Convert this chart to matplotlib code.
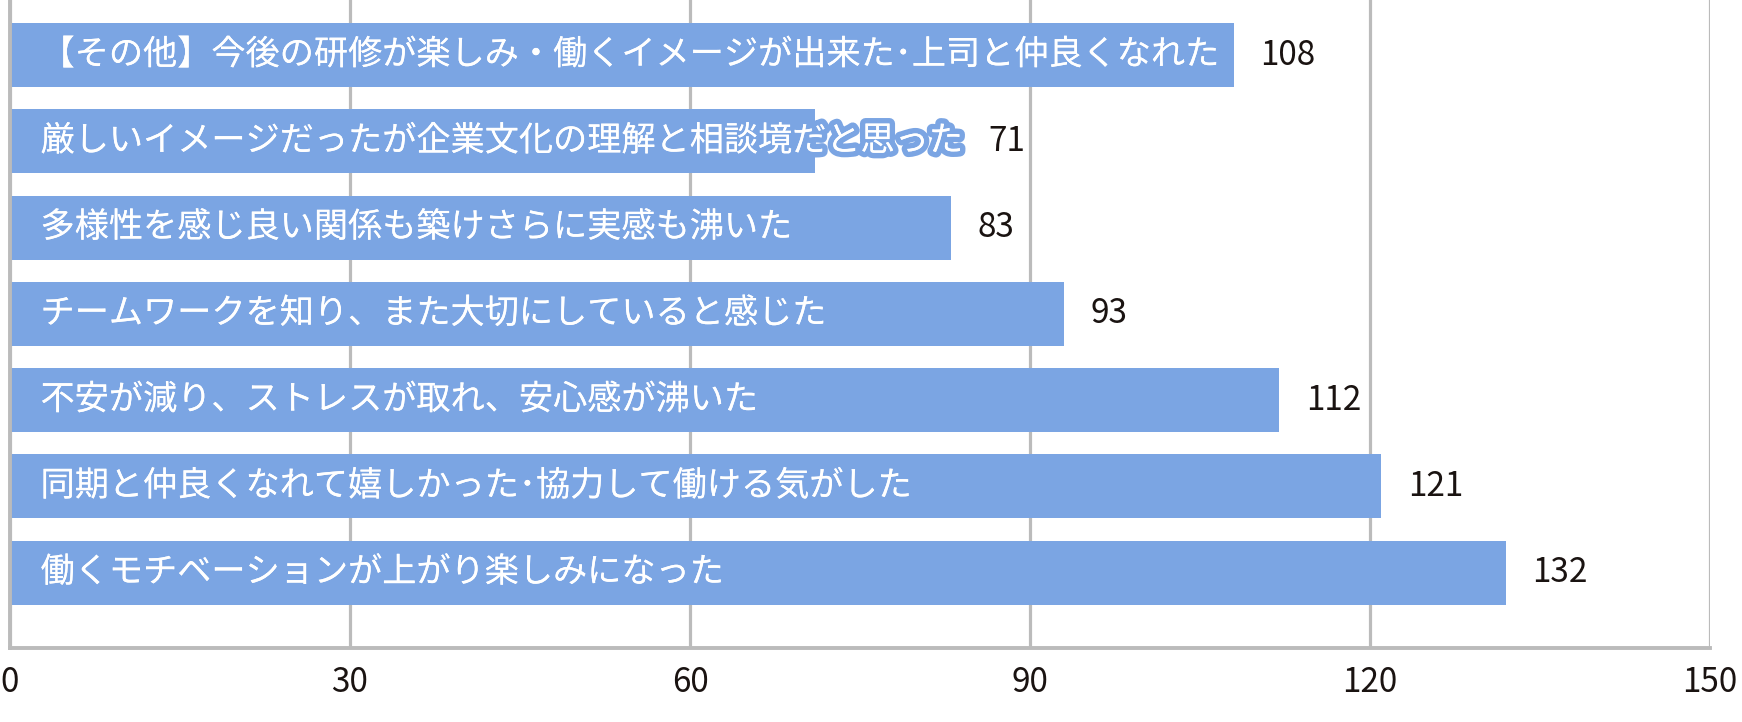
import matplotlib
matplotlib.use("Agg")
import matplotlib.pyplot as plt
import matplotlib.patheffects as pe

plt.rcParams['font.family'] = ['Noto Sans CJK JP', 'DejaVu Sans']

labels = [
    "【その他】今後の研修が楽しみ・働くイメージが出来た･上司と仲良くなれた",
    "厳しいイメージだったが企業文化の理解と相談境だと思った",
    "多様性を感じ良い関係も築けさらに実感も沸いた",
    "チームワークを知り、また大切にしていると感じた",
    "不安が減り、ストレスが取れ、安心感が沸いた",
    "同期と仲良くなれて嬉しかった･協力して働ける気がした",
    "働くモチベーションが上がり楽しみになった",
]
values = [108, 71, 83, 93, 112, 121, 132]
xticks = [0, 30, 60, 90, 120, 150]

bar_color = "#7BA5E3"
grid_color = "#BBBBBB"
text_dark = "#1A1311"
fs_label = 24.6
fs_num = 24

W, H = 1742, 722
fig = plt.figure(figsize=(W / 100, H / 100), dpi=100)
ax = fig.add_axes([10 / W, 1 - 648 / H, 1700 / W, 648 / H])

pos = list(range(len(labels)))
ax.barh(pos, values, height=0.742, color=bar_color, zorder=2)

ax.set_xlim(0, 150)
ax.set_ylim(6.875, -0.638)
ax.set_xticks(xticks)
ax.set_xticklabels([str(t) for t in xticks], fontsize=fs_num, color=text_dark)
ax.set_yticks([])
ax.tick_params(axis="x", length=0, pad=12)
ax.grid(axis="x", color=grid_color, linewidth=2.3, zorder=1)
ax.set_axisbelow(True)

for side in ["top", "right"]:
    ax.spines[side].set_visible(False)
for side in ["left", "bottom"]:
    ax.spines[side].set_color(grid_color)
    ax.spines[side].set_linewidth(2.8)
    ax.spines[side].set_zorder(3)

# ラベル (バーの中、白文字 + バー色の縁取り)
texts = []
for i, lab in enumerate(labels):
    t = ax.annotate(lab, xy=(0, i), xytext=(22, 0), textcoords="offset points",
                    va="center", ha="left", color="white", fontsize=fs_label, zorder=4,
                    path_effects=[pe.withStroke(linewidth=8, foreground=bar_color),
                                  pe.Normal()])
    texts.append(t)

fig.canvas.draw()
renderer = fig.canvas.get_renderer()
inv = ax.transData.inverted()

for i, v in enumerate(values):
    bb = texts[i].get_window_extent(renderer)
    text_end = inv.transform((bb.x1, 0))[0]
    x = max(v, text_end)
    ax.annotate(str(v), xy=(x, i), xytext=(19, 0), textcoords="offset points",
                va="center", ha="left", color=text_dark, fontsize=fs_num, zorder=4)

fig.savefig("out.png", dpi=100)
